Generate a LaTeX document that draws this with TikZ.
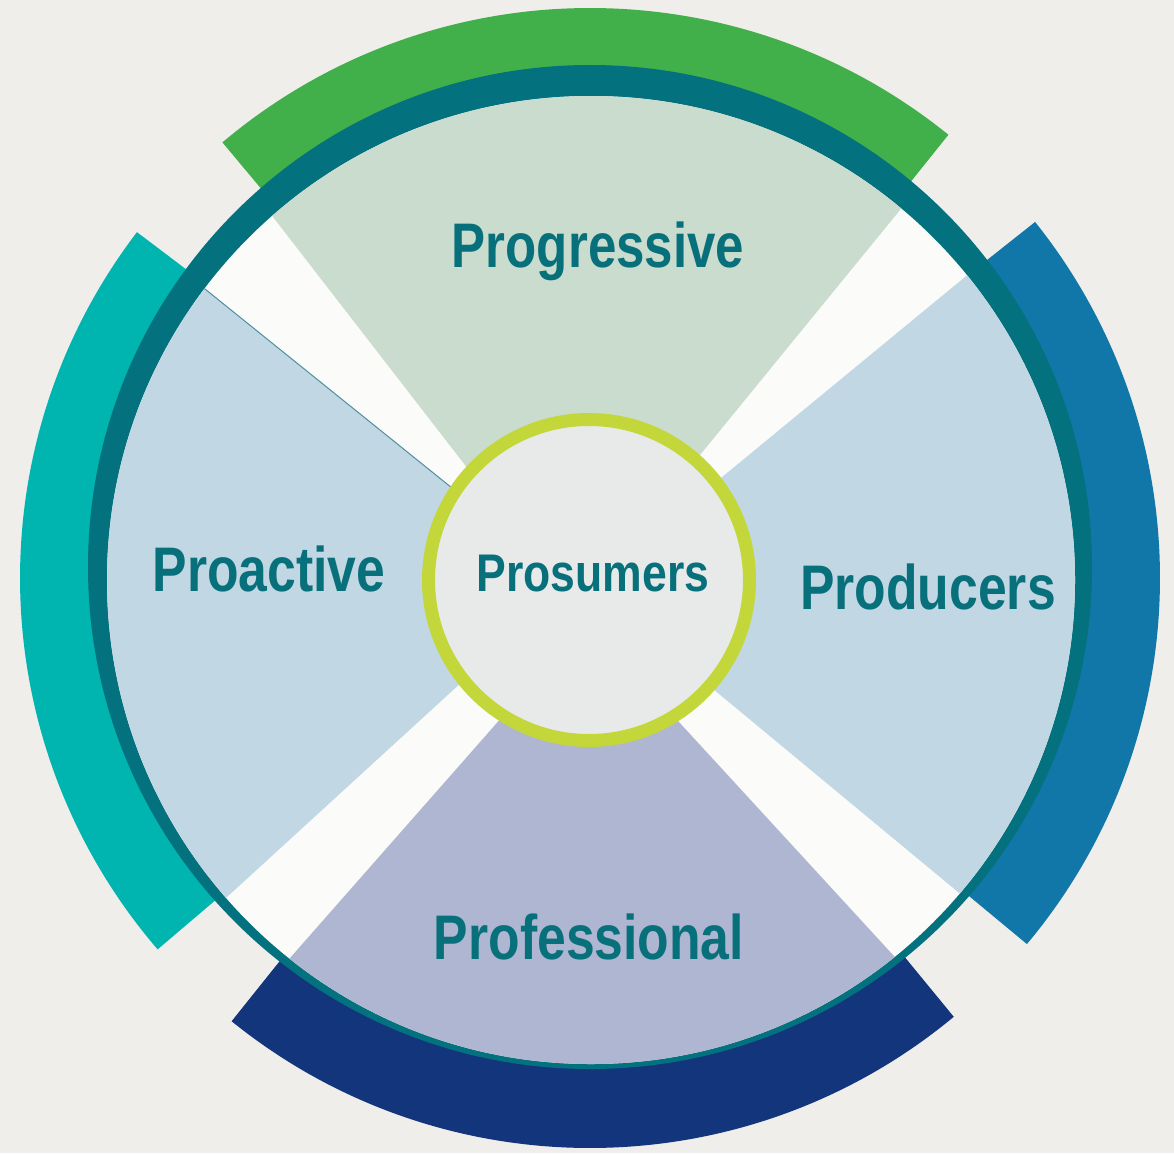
\documentclass[tikz,border=0pt]{standalone}
\usepackage{fontspec}
\setmainfont{Liberation Sans}
\usepackage{graphicx}
\usetikzlibrary{calc}
\definecolor{bgc}{HTML}{EFEEEB}
\definecolor{cgreen}{HTML}{41AF4A}
\definecolor{cblue}{HTML}{1176A8}
\definecolor{cteal}{HTML}{00B5B0}
\definecolor{cnavy}{HTML}{13357C}
\definecolor{ringc}{HTML}{03717E}
\definecolor{gapc}{HTML}{FBFBF9}
\definecolor{topc}{HTML}{C9DCCD}
\definecolor{sidec}{HTML}{C1D7E3}
\definecolor{botc}{HTML}{AEB6D1}
\definecolor{corec}{HTML}{E8EAEA}
\definecolor{limec}{HTML}{C4D73A}
\definecolor{txtc}{HTML}{08707B}
\definecolor{seamc}{HTML}{4E8FA0}
\tikzset{
  lbl/.style={text=txtc, font=\bfseries\fontsize{63}{63}\selectfont, anchor=base, inner sep=0pt},
  corelbl/.style={text=txtc, font=\bfseries\fontsize{53}{53}\selectfont, anchor=base, inner sep=0pt},
  band/.style={line width=150pt, line cap=butt},
}
\newcommand\narrowtxt[2]{\scalebox{#1}[1]{#2}}
\begin{document}
\begin{tikzpicture}[x=1pt,y=-1pt]
\fill[bgc] (0,0) rectangle (1174,1153);
\useasboundingbox (0,0) rectangle (1174,1153);
% outer coloured arcs (centre 590,578; outer radius 570)
\begin{scope}[shift={(590,578)}]
\draw[band, draw=cgreen] (-51:495) arc[start angle=-51, end angle=-130.2, radius=495];
\draw[band, draw=cteal] (-142.6:495) arc[start angle=-142.6, end angle=-220.7, radius=495];
\draw[band, draw=cnavy] (-231:495) arc[start angle=-231, end angle=-309.7, radius=495];
\draw[band, draw=cblue] (40:495) arc[start angle=40, end angle=-38.7, radius=495];
\end{scope}
% teal ring and inner disk
\fill[ringc] (590,567) circle[radius=502];
\fill[gapc] (591,580) circle[radius=484];
% sector edge points
\coordinate (t1) at (273,217); \coordinate (t2) at (465,465);
\coordinate (t3) at (900,210); \coordinate (t4) at (700,455);
\coordinate (r1) at (965,277); \coordinate (r2) at (880,347);
\coordinate (r3) at (958,892); \coordinate (r4) at (847,800);
\coordinate (b1) at (290,958); \coordinate (b2) at (400,833);
\coordinate (b3) at (893,955); \coordinate (b4) at (780,832);
\coordinate (l1) at (200,285); \coordinate (l2) at (452,488);
\coordinate (l3) at (227,897); \coordinate (l4) at (333,800);
\coordinate (ta) at (intersection of t1--t2 and t3--t4);
\coordinate (ra) at (intersection of r1--r2 and r3--r4);
\coordinate (ba) at (intersection of b1--b2 and b3--b4);
\coordinate (la) at (intersection of l1--l2 and l3--l4);
\begin{scope}
\clip (591,580) circle[radius=484];
\fill[topc] (ta) -- ($(ta)!3!(t1)$) -- ($(ta)!3!(t3)$) -- cycle;
\fill[sidec] (ra) -- ($(ra)!3!(r1)$) -- ($(ra)!3!(r3)$) -- cycle;
\fill[botc] (ba) -- ($(ba)!3!(b1)$) -- ($(ba)!3!(b3)$) -- cycle;
\fill[sidec] (la) -- ($(la)!3!(l1)$) -- ($(la)!3!(l3)$) -- cycle;
\draw[seamc, line width=1pt] (l1) -- (l2);
\end{scope}
% centre
\node[circle, minimum size=321pt, draw=limec, line width=13pt, fill=corec, inner sep=0pt] (core) at (589,580) {};
\node[corelbl] (prosumers) at (593,591) {\narrowtxt{0.84}{Prosumers}};
% labels
\node[lbl] (progressive) at (598,267) {\narrowtxt{0.81}{Progressive}};
\node[lbl] (proactive) at (269,591) {\narrowtxt{0.82}{Proactive}};
\node[lbl] (producers) at (928,609) {\narrowtxt{0.82}{Producers}};
\node[lbl] (professional) at (589,959) {\narrowtxt{0.82}{Professional}};
\end{tikzpicture}
\end{document}
